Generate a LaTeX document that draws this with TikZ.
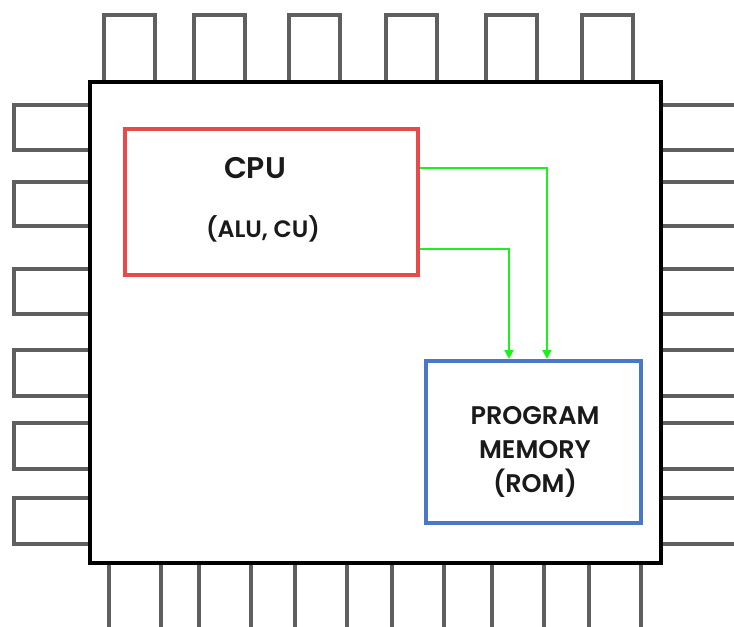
\documentclass[tikz,border=0pt]{standalone}
\usepackage{fontspec}
\setmainfont{Poppins}[BoldFont={Poppins SemiBold}]
\usepackage{tikz}
\usetikzlibrary{arrows.meta, positioning}
\usepackage{xcolor}
\definecolor{pingray}{HTML}{5F5F5F}
\definecolor{cpured}{HTML}{E84A4A}
\definecolor{romblue}{HTML}{4A78C8}
\definecolor{wiregreen}{HTML}{1EF01E}
\definecolor{inktext}{HTML}{1A1A1A}

\begin{document}
\begin{tikzpicture}[x=0.02cm, y=-0.02cm,
    pin/.style={draw=pingray, line width=2.6pt, fill=white},
    cpubox/.style={draw=cpured, line width=2.3pt, minimum width=5.86cm, minimum height=2.92cm},
    rombox/.style={draw=romblue, line width=2.3pt, minimum width=4.3cm, minimum height=3.24cm},
    label/.style={font=\bfseries\fontsize{#1}{19.3}\selectfont, text=inktext, align=center},
    wire/.style={draw=wiregreen, line width=1.3pt, -{Triangle[length=5pt, width=5pt]}}]
  \useasboundingbox (0,0) rectangle (734,626);
  \clip (0,0) rectangle (734,626);

  % pins on top and bottom
  \foreach \x in {104,194,289,386,486,582} {
      \draw[pin] (\x,15) rectangle ++(51,67);
    }
  \foreach \x in {109,199,295,392,492,589} {
      \draw[pin] (\x,563) rectangle ++(52,80);
    }

  % pins on the left and right
  \foreach \y/\h in {105/45, 182/44, 269/45, 350/46, 423/46, 498/46} {
      \draw[pin] (14,\y) rectangle ++(76,\h);
      \draw[pin] (661,\y) rectangle ++(90,\h);
    }

  % chip body
  \draw[line width=2.6pt, fill=white] (90,82) rectangle (661,563);

  % blocks
  \node[cpubox] (cpu) at (271.5,202) {};
  \node[label=17] (cpu-title) at (255,168) {CPU};
  \node[label=13.5] (cpu-sub) at (263,229) {(ALU, CU)};
  \node[rombox] (rom) at (533.5,442) {};
  \node[label=14.5] (rom-title) at (535,452) {PROGRAM\\MEMORY\\(ROM)};

  % buses
  \draw[wire] ([yshift=0.68cm]cpu.east) -| ([xshift=0.27cm]rom.north);
  \draw[wire] ([yshift=-0.94cm]cpu.east) -| ([xshift=-0.49cm]rom.north);
\end{tikzpicture}
\end{document}
